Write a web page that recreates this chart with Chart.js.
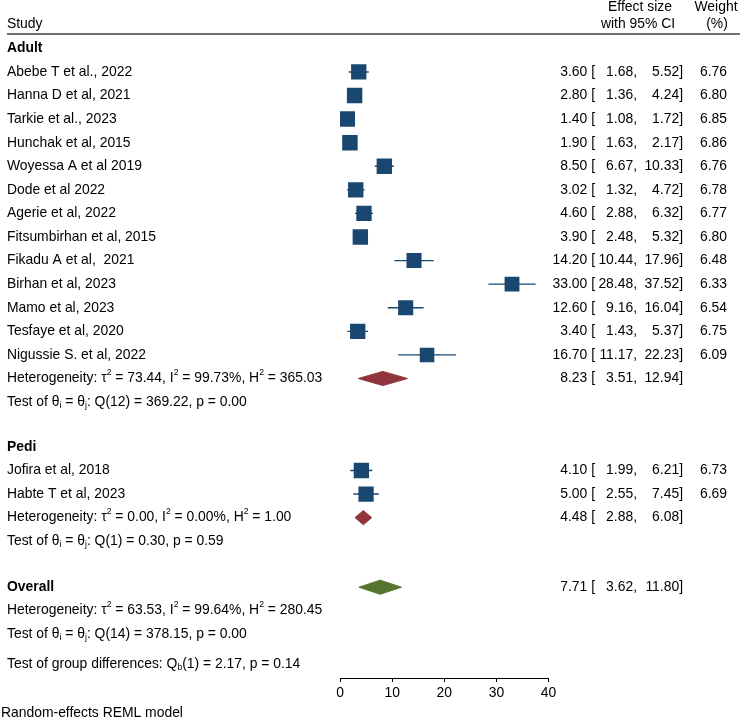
<!DOCTYPE html>
<html>
<head>
<meta charset="utf-8">
<script src="https://cdn.jsdelivr.net/npm/chart.js@4.4.1/dist/chart.umd.min.js"></script>
<style>
  html, body { margin: 0; padding: 0; background: #fff; }
  canvas { display: block; }
</style>
</head>
<body>
<canvas id="forest" width="744" height="720"></canvas>
<script>
// Study data
const studies = ['Abebe T et al., 2022', 'Hanna D et al, 2021', 'Tarkie et al., 2023', 'Hunchak et al, 2015',
    'Woyessa A et al 2019', 'Dode et al 2022', 'Agerie et al, 2022', 'Fitsumbirhan et al, 2015',
    'Fikadu A et al,  2021', 'Birhan et al, 2023', 'Mamo et al, 2023', 'Tesfaye et al, 2020',
    'Nigussie S. et al, 2022', 'Jofira et al, 2018', 'Habte T et al, 2023'];
const effect = [3.60, 2.80, 1.40, 1.90, 8.50, 3.02, 4.60, 3.90, 14.20, 33.00, 12.60, 3.40, 16.70, 4.10, 5.00];
const ciLow = [1.68, 1.36, 1.08, 1.63, 6.67, 1.32, 2.88, 2.48, 10.44, 28.48, 9.16, 1.43, 11.17, 1.99, 2.55];
const ciHigh = [5.52, 4.24, 1.72, 2.17, 10.33, 4.72, 6.32, 5.32, 17.96, 37.52, 16.04, 5.37, 22.23, 6.21, 7.45];
const weights = [6.76, 6.80, 6.85, 6.86, 6.76, 6.78, 6.77, 6.80, 6.48, 6.33, 6.54, 6.75, 6.09, 6.73, 6.69];

// Pooled estimates: Adult, Pedi, Overall
const pooledNames = ['Adult', 'Pedi', 'Overall'];
const pooledEffect = [8.23, 4.48, 7.71];
const pooledLow = [3.51, 2.88, 3.62];
const pooledHigh = [12.94, 6.08, 11.80];

const hetText = [
    'Heterogeneity: \u03c4{^2} = 73.44, I{^2} = 99.73%, H{^2} = 365.03',
    'Heterogeneity: \u03c4{^2} = 0.00, I{^2} = 0.00%, H{^2} = 1.00',
    'Heterogeneity: \u03c4{^2} = 63.53, I{^2} = 99.64%, H{^2} = 280.45'
];
const testText = [
    'Test of \u03b8{_i} = \u03b8{_j}: Q(12) = 369.22, p = 0.00',
    'Test of \u03b8{_i} = \u03b8{_j}: Q(1) = 0.30, p = 0.59',
    'Test of \u03b8{_i} = \u03b8{_j}: Q(14) = 378.15, p = 0.00'
];
const groupText = 'Test of group differences: Q{_b}(1) = 2.17, p = 0.14';
const xTicks = [0, 10, 20, 30, 40];

// Layout: row positions (in row units, top to bottom)
const studyRows = [3, 4, 5, 6, 7, 8, 9, 10, 11, 12, 13, 14, 15, 19.9, 20.9];
const groupRows = [2, 18.9, 24.85];
const pooledRows = [16, 21.9, 24.85];
const hetRows = [16, 21.9, 25.82];
const testRows = [17, 22.9, 26.84];
const groupDiffRow = 28.11;

const FONT = '"Liberation Sans", Arial, Helvetica, sans-serif';
const FS = 13.9;
const NAVY = '#1a476f';
const diamondColors = ['#90353b', '#90353b', '#55752f'];
const diamondHalf = 0.3;

Chart.defaults.font.family = FONT;
Chart.defaults.font.size = FS;
Chart.defaults.color = '#000';

function drawRich(ctx, text, x, y, bold) {
    const parts = text.split(/(\{[\^_][^}]*\})/);
    let cx = x;
    parts.forEach(p => {
        if (!p) return;
        let size = FS, dy = 0, t = p;
        if (p[0] === '{') {
            t = p.slice(2, -1);
            size = FS * 0.62;
            dy = p[1] === '^' ? -FS * 0.4 : FS * 0.25;
        }
        ctx.font = (bold ? 'bold ' : '') + size + 'px ' + FONT;
        ctx.fillText(t, cx, y + dy);
        cx += ctx.measureText(t).width;
    });
}

function drawNumbers(ctx, y, est, lo, hi, w) {
    ctx.font = FS + 'px ' + FONT;
    ctx.textAlign = 'right';
    ctx.fillText(est.toFixed(2) + ' [', 595, y);
    ctx.fillText(lo.toFixed(2) + ',', 637, y);
    ctx.fillText(hi.toFixed(2) + ']', 683, y);
    if (w !== undefined) ctx.fillText(w.toFixed(2), 727, y);
    ctx.textAlign = 'left';
}

const forestText = {
    id: 'forestText',
    afterDraw(chart) {
        const ctx = chart.ctx;
        const ys = chart.scales.y;
        ctx.save();
        ctx.fillStyle = '#000';
        ctx.textBaseline = 'middle';

        // header
        ctx.font = FS + 'px ' + FONT;
        ctx.textAlign = 'left';
        ctx.fillText('Study', 7, ys.getPixelForValue(0.97));
        ctx.textAlign = 'center';
        ctx.fillText('Effect size', 640, ys.getPixelForValue(0.27));
        ctx.fillText('with 95% CI', 638, ys.getPixelForValue(0.97));
        ctx.fillText('Weight', 716, ys.getPixelForValue(0.27));
        ctx.fillText('(%)', 717, ys.getPixelForValue(0.97));
        ctx.textAlign = 'left';

        ctx.strokeStyle = '#404040';
        ctx.lineWidth = 1.5;
        ctx.beginPath();
        const ly = ys.getPixelForValue(1.39);
        ctx.moveTo(7, ly);
        ctx.lineTo(740, ly);
        ctx.stroke();

        // group titles
        pooledNames.forEach((g, i) => drawRich(ctx, g, 7, ys.getPixelForValue(groupRows[i]), true));

        // studies
        studies.forEach((s, i) => {
            const y = ys.getPixelForValue(studyRows[i]);
            drawRich(ctx, s, 7, y, false);
            drawNumbers(ctx, y, effect[i], ciLow[i], ciHigh[i], weights[i]);
        });

        // pooled rows
        pooledNames.forEach((g, i) => {
            drawRich(ctx, hetText[i], 7, ys.getPixelForValue(hetRows[i]), false);
            drawRich(ctx, testText[i], 7, ys.getPixelForValue(testRows[i]), false);
            drawNumbers(ctx, ys.getPixelForValue(pooledRows[i]), pooledEffect[i], pooledLow[i], pooledHigh[i]);
        });
        drawRich(ctx, groupText, 7, ys.getPixelForValue(groupDiffRow), false);

        ctx.font = FS + 'px ' + FONT;
        ctx.fillText('Random-effects REML model', 1, 713);
        ctx.restore();
    }
};

// CI lines, one per study
const ciSets = studies.map((s, i) => ({
    type: 'scatter',
    data: [{ x: ciLow[i], y: studyRows[i] }, { x: ciHigh[i], y: studyRows[i] }],
    showLine: true,
    borderColor: NAVY,
    borderWidth: 1.4,
    pointRadius: 0,
    order: 2
}));

// squares sized by weight
const squareSet = {
    type: 'scatter',
    data: effect.map((e, i) => ({ x: e, y: studyRows[i] })),
    pointStyle: 'rect',
    pointRadius: weights.map(w => 5.9 * Math.sqrt(w) / Math.SQRT2),
    backgroundColor: NAVY,
    borderWidth: 0,
    order: 1
};

// pooled diamonds
const diamondSets = pooledNames.map((g, i) => ({
    type: 'scatter',
    data: [
        { x: pooledLow[i], y: pooledRows[i] },
        { x: pooledEffect[i], y: pooledRows[i] - diamondHalf },
        { x: pooledHigh[i], y: pooledRows[i] },
        { x: pooledEffect[i], y: pooledRows[i] + diamondHalf },
        { x: pooledLow[i], y: pooledRows[i] }
    ],
    showLine: true,
    fill: 'shape',
    backgroundColor: diamondColors[i],
    borderColor: diamondColors[i],
    borderWidth: 1,
    pointRadius: 0,
    tension: 0,
    order: 1
}));

new Chart(document.getElementById('forest'), {
    type: 'scatter',
    data: { datasets: [...ciSets, squareSet, ...diamondSets] },
    options: {
        responsive: false,
        animation: false,
        devicePixelRatio: 1,
        events: [],
        layout: { autoPadding: false, padding: { left: 340, right: 195.5, top: 0, bottom: 0 } },
        plugins: { legend: { display: false }, tooltip: { enabled: false } },
        scales: {
            x: {
                type: 'linear',
                min: 0,
                max: 40,
                afterBuildTicks(scale) { scale.ticks = xTicks.map(v => ({ value: v })); },
                afterFit(scale) { scale.height = 42; },
                grid: { drawOnChartArea: false, drawTicks: true, tickLength: 4, color: '#000', lineWidth: 1 },
                border: { display: true, color: '#000', width: 1 },
                ticks: { padding: 3, color: '#000', font: { size: FS }, maxRotation: 0 }
            },
            y: {
                type: 'linear',
                display: false,
                reverse: true,
                min: -0.05,
                max: 28.7
            }
        }
    },
    plugins: [forestText]
});
</script>
</body>
</html>
